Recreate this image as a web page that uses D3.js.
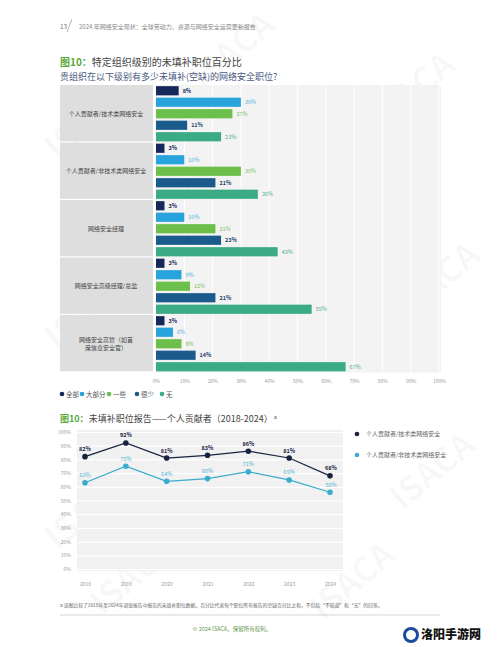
<!DOCTYPE html>
<html><head><meta charset="utf-8">
<script src="https://cdn.jsdelivr.net/npm/d3@7"></script>
<style>
body{margin:0;background:#fff}
svg{display:block}
text{font-family:"Noto Sans CJK SC","Noto Sans",sans-serif}
</style>
</head><body>
<svg id="c" width="500" height="647"></svg>
<script>
// ---------- data ----------
const groups = ["个人贡献者/技术类网络安全","个人贡献者/非技术类网络安全","网络安全经理","网络安全高级经理/总监","网络安全高管（如首席信息安全官）"];
const groupLines = [["个人贡献者/技术类网络安全"],["个人贡献者/非技术类网络安全"],["网络安全经理"],["网络安全高级经理/总监"],["网络安全高管（如首","席信息安全官）"]];
const seriesNames = ["全部","大部分","一些","很少","无"];
const sAll  = [8, 3, 3, 3, 3];
const sMost = [30, 10, 10, 9, 6];
const sSome = [27, 30, 21, 12, 9];
const sFew  = [11, 21, 23, 21, 14];
const sNone = [23, 36, 43, 55, 67];
const xTicks = [0,10,20,30,40,50,60,70,80,90,100];

const years = ["2018","2019","2020","2021","2022","2023","2024"];
const techIC    = [82, 92, 81, 83, 86, 81, 68];
const nonTechIC = [63, 75, 64, 66, 71, 65, 56];
const yTicks = [0,10,20,30,40,50,60,70,80,90,100];
const lineNames = ["个人贡献者/技术类网络安全","个人贡献者/非技术类网络安全"];

const barColors = ["#14285a","#29a3dc","#6cbf4a","#1a5b8c","#3aab85"];
const labelColors = ["#14285a","#4fb0de","#7cbf5a","#1a3f6c","#4fae8c"];
const lineColors = ["#18233f","#3aaccc"];

const svg = d3.select("#c");

// ---------- faint watermarks ----------
const wm = [[95,130],[240,60],[420,100],[95,320],[270,250],[445,290],[95,520],[275,500],[440,480],[140,585],[360,590]];
svg.append("g").selectAll("text").data(wm).join("text")
  .attr("transform",d=>`translate(${d[0]},${d[1]}) rotate(-40)`)
  .attr("text-anchor","middle").attr("font-size",34).attr("font-weight",700)
  .attr("fill","#000").attr("fill-opacity",0.03).text("ISACA");

// ---------- header ----------
svg.append("text").attr("x",60).attr("y",29).attr("font-size",6.5).attr("fill","#777").text("13");
svg.append("line").attr("x1",67).attr("y1",32).attr("x2",72).attr("y2",19).attr("stroke","#999").attr("stroke-width",0.7);
svg.append("text").attr("x",79).attr("y",29).attr("font-size",6).attr("fill","#888")
  .text("2024 年网络安全现状：全球劳动力、资源与网络安全运营更新报告");

// ---------- chart 1 title ----------
const t1 = svg.append("text").attr("x",60).attr("y",66).attr("font-size",10);
t1.append("tspan").attr("fill","#5aa83c").attr("font-weight",700).text("图10：");
t1.append("tspan").attr("fill","#444").text("特定组织级别的未填补职位百分比");
svg.append("text").attr("x",60).attr("y",80).attr("font-size",9).attr("fill","#4a5a80")
  .text("贵组织在以下级别有多少未填补(空缺)的网络安全职位?");

// ---------- bar chart ----------
const x = d3.scaleLinear().domain([0,100]).range([156,439]);
const yG = d3.scaleBand().domain(groups).range([85,372.5]);
const yS = d3.scaleBand().domain(seriesNames).range([0,yG.bandwidth()]).paddingInner(0.2).paddingOuter(0.1);
const seriesVals = [sAll,sMost,sSome,sFew,sNone];

// plot background
svg.append("rect").attr("x",x(0)).attr("y",85).attr("width",x(100)-x(0)+2).attr("height",372.5-85).attr("fill","#f3f3f3");
svg.append("g").selectAll("line").data(xTicks.slice(1)).join("line")
  .attr("x1",d=>x(d)).attr("x2",d=>x(d)).attr("y1",85).attr("y2",372.5)
  .attr("stroke","#fff").attr("stroke-width",1);

// label panel
const gl = svg.append("g");
gl.selectAll("rect").data(groups).join("rect")
  .attr("x",60).attr("y",d=>yG(d)).attr("width",93).attr("height",yG.bandwidth()-1.2)
  .attr("fill","#dedede");
gl.selectAll("text").data(groups).join("text")
  .attr("x",106).attr("text-anchor","middle").attr("font-size",6).attr("fill","#444")
  .each(function(d,i){
    const lines = groupLines[i];
    const cy = yG(d)+yG.bandwidth()/2;
    lines.forEach((l,j)=>{
      d3.select(this).append("tspan").attr("x",106)
        .attr("y",cy+2+(j-(lines.length-1)/2)*8.5).text(l);
    });
  });

// bars
groups.forEach((g,gi)=>{
  seriesNames.forEach((s,si)=>{
    const v = seriesVals[si][gi];
    const yy = yG(g)+yS(s);
    svg.append("rect").attr("x",x(0)).attr("y",yy).attr("width",x(v)-x(0)).attr("height",yS.bandwidth())
      .attr("fill",barColors[si]);
    svg.append("text").attr("x",x(v)+4).attr("y",yy+yS.bandwidth()/2+2)
      .attr("font-size",5.5).attr("fill",labelColors[si])
      .attr("font-weight",(si===0||si===3)?700:400).text(v+"%");
  });
});

// x axis
const xAxis = svg.append("g").attr("transform","translate(0,376)")
  .call(d3.axisBottom(x).tickValues(xTicks).tickFormat(d=>d+"%").tickSize(0));
xAxis.select(".domain").remove();
xAxis.selectAll("text").attr("font-size",5).attr("fill","#999").attr("font-family","Noto Sans CJK SC");

// legend
const legX = [62,82,109,137,162];
const lg = svg.append("g");
seriesNames.forEach((s,i)=>{
  lg.append("circle").attr("cx",legX[i]).attr("cy",394).attr("r",2.3).attr("fill",barColors[i]);
  lg.append("text").attr("x",legX[i]+4).attr("y",396.5).attr("font-size",6.5).attr("fill","#555").text(s);
});

// ---------- chart 2 ----------
const t2 = svg.append("text").attr("x",60).attr("y",422).attr("font-size",9);
t2.append("tspan").attr("fill","#5aa83c").attr("font-weight",700).text("图10：");
t2.append("tspan").attr("fill","#444").text("未填补职位报告——个人贡献者（2018-2024）");
t2.append("tspan").attr("fill","#444").attr("font-size",5.5).attr("dx",1).attr("dy",-3).text("a");

const xL = d3.scalePoint().domain(years).range([85,330]);
const yL = d3.scaleLinear().domain([0,100]).range([569,432]);

svg.append("rect").attr("x",77).attr("y",yL(100)-2).attr("width",266).attr("height",yL(0)-yL(100)+4).attr("fill","#f1f1f1");
const yAx = svg.append("g").attr("transform","translate(77,0)")
  .call(d3.axisLeft(yL).tickValues(yTicks).tickFormat(d=>d+"%").tickSize(-266).tickPadding(6));
yAx.select(".domain").remove();
yAx.selectAll(".tick line").attr("stroke","#fff").attr("stroke-width",1.2);
yAx.selectAll("text").attr("font-size",5).attr("fill","#999").attr("font-family","Noto Sans CJK SC");

const xAx = svg.append("g").attr("transform","translate(0,579)")
  .call(d3.axisBottom(xL).tickSize(0));
xAx.select(".domain").remove();
xAx.selectAll("text").attr("font-size",5).attr("fill","#999").attr("font-family","Noto Sans CJK SC");

const lineGen = d3.line().x((d,i)=>xL(years[i])).y(d=>yL(d));
[techIC,nonTechIC].forEach((ser,k)=>{
  svg.append("path").datum(ser).attr("d",lineGen).attr("fill","none")
    .attr("stroke",lineColors[k]).attr("stroke-width",1.2);
  svg.append("g").selectAll("circle").data(ser).join("circle")
    .attr("cx",(d,i)=>xL(years[i])).attr("cy",d=>yL(d)).attr("r",2.8).attr("fill",lineColors[k]);
  svg.append("g").selectAll("text").data(ser).join("text")
    .attr("x",(d,i)=>xL(years[i])+(i===6?1:0)).attr("y",d=>yL(d)-5.5)
    .attr("text-anchor","middle").attr("font-size",5.5)
    .attr("font-weight",k===0?700:400).attr("fill",k===0?"#18233f":"#49b2d2")
    .text(d=>d+"%");
});

// line legend
lineNames.forEach((n,i)=>{
  svg.append("circle").attr("cx",357).attr("cy",434+i*21).attr("r",2.3).attr("fill",lineColors[i]);
  svg.append("text").attr("x",366).attr("y",436+i*21).attr("font-size",6).attr("fill","#666").text(n);
});

// footnote
svg.append("text").attr("x",60).attr("y",607).attr("font-size",4.8).attr("fill","#666")
  .text("a 该图比较了2018年至2024年调查报告中报告的未填补职位数据。百分比代表每个职位所有报告的空缺百分比之和，不包括“不知道”和“无”的回答。");
svg.append("line").attr("x1",60).attr("x2",440).attr("y1",615).attr("y2",615).attr("stroke","#bbb").attr("stroke-width",0.6);
svg.append("text").attr("x",232).attr("y",631).attr("text-anchor","middle").attr("font-size",5.5).attr("fill","#6a9a4c")
  .text("© 2024 ISACA。保留所有权利。");

// site mark
svg.append("circle").attr("cx",411).attr("cy",635).attr("r",8).attr("fill","#1c4a9c");
svg.append("circle").attr("cx",411).attr("cy",635).attr("r",5).attr("fill","#fff");
svg.append("text").attr("x",421).attr("y",639).attr("font-size",12).attr("font-weight",900).attr("fill","#111").text("洛阳手游网");
</script>
</body></html>
